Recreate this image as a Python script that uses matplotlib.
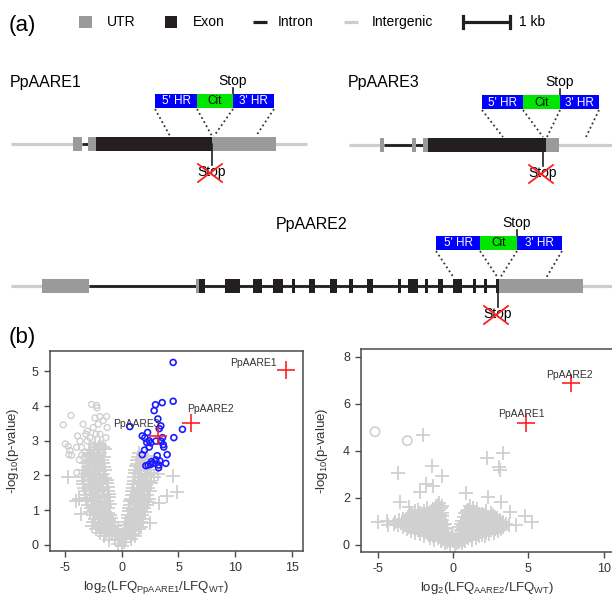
import matplotlib.pyplot as plt
from matplotlib.patches import Rectangle

plt.rcParams['font.family'] = ['Liberation Sans', 'DejaVu Sans']
plt.rcParams['mathtext.default'] = 'regular'
plt.rcParams['axes.unicode_minus'] = False

# ---------------- panel (a): gene models (figure pixels, y from top)
utr_col = '#9a9a9a'
exon_col = '#231f20'
inter_col = '#cdcdcd'

aare1_span = (11, 307)
aare1_utr = [(73, 82), (88, 96), (212, 276)]
aare1_exon = [(96, 212)]
aare1_intron = [(82, 88)]
aare1_hr = [155, 197, 233, 274]
aare1_dots = [170, 212, 214, 256]

aare3_span = (349, 612)
aare3_utr = [(380, 384), (412, 416), (423, 428), (546, 559)]
aare3_exon = [(428, 546)]
aare3_intron = [(384, 423)]
aare3_hr = [482, 523, 560, 599]
aare3_dots = [503, 543, 547, 586]

aare2_span = (11, 612)
aare2_utr = [(42, 89), (196, 199), (499, 583)]
aare2_exon = [(199, 205), (225, 240), (253, 262), (273, 283), (292, 295),
              (309, 315), (330, 337), (349, 353), (367, 373), (398, 401),
              (408, 418), (425, 428), (438, 443), (453, 462), (473, 476),
              (484, 487), (496, 499)]
aare2_intron = [(89, 499)]
aare2_hr = [436, 480, 517, 562]
aare2_dots = [454, 498, 500, 546]

# ---------------- panel (b): volcano plots
# left: PpAARE1 vs WT
l_red = [(14.5, 5.05), (6.15, 3.5), (3.2, 3.14)]
l_red_names = ['PpAARE1', 'PpAARE2', 'PpAARE3']
l_name_pos = [(11.6, 5.24), (7.8, 3.92), (1.3, 3.48)]

l_blue = [(4.53, 5.26), (4.53, 4.14), (3.56, 4.1), (2.97, 4.04), (2.85, 3.87),
          (3.18, 3.63), (3.44, 3.43), (3.3, 3.35), (5.35, 3.33), (4.59, 3.09),
          (2.27, 3.24), (2.03, 3.09), (1.8, 3.14), (2.4, 3.0), (2.55, 2.94),
          (3.59, 3.09), (3.47, 2.99), (3.65, 2.89), (3.0, 2.99), (2.42, 2.82),
          (1.8, 2.6), (2.0, 2.73), (4.0, 2.6), (3.12, 2.57), (3.35, 2.42),
          (3.27, 2.3), (3.24, 2.22), (3.88, 2.35), (2.76, 2.35), (2.53, 2.32),
          (2.32, 2.3), (2.12, 2.28), (2.62, 2.4), (0.7, 3.41), (3.7, 2.82),
          (3.0, 2.45), (2.2, 2.95)]

l_grey_o = [(-5.18, 3.46), (-4.5, 3.73), (-5.0, 2.91), (-4.74, 2.84), (-4.59, 2.72),
            (-4.68, 2.6), (-4.44, 2.58), (-4.0, 2.81), (-3.56, 2.81), (-3.7, 2.99),
            (-3.18, 3.19), (-3.06, 3.28), (-2.68, 4.05), (-2.24, 4.02), (-2.2, 3.95),
            (-2.38, 3.66), (-1.94, 3.7), (-1.35, 3.7), (-1.65, 3.58), (-2.09, 3.48),
            (-1.3, 3.38), (-2.53, 3.38), (-2.29, 3.19), (-1.94, 3.19), (-2.82, 3.09),
            (-3.42, 3.48), (-3.91, 3.14), (-3.06, 2.99), (-2.68, 2.89), (-3.27, 2.68),
            (-2.82, 2.65), (-3.56, 2.58), (-3.77, 2.45), (-3.18, 2.35), (-4.0, 2.08),
            (-2.38, 2.58), (-1.94, 2.89), (-1.41, 3.09)]

l_grey_plus = [
    (0.0, -0.05), (-0.35, 0.02), (0.2, 0.08),
    (-1.1, 0.15), (-0.6, 0.18), (-0.15, 0.14), (0.35, 0.2), (0.8, 0.16),
    (-1.6, 0.25), (-1.15, 0.26), (-0.65, 0.24), (-0.15, 0.27), (0.35, 0.25), (0.8, 0.26), (1.2, 0.24),
    (-1.9, 0.33), (-1.4, 0.36), (-0.9, 0.3), (-0.4, 0.38), (0.1, 0.32), (0.6, 0.37), (1.0, 0.3),
    (-2.3, 0.45), (-1.85, 0.46), (-1.35, 0.44), (-0.85, 0.45), (-0.35, 0.46), (0.55, 0.44),
    (1.05, 0.46), (1.5, 0.45),
    (-2.6, 0.55), (-2.1, 0.52), (-1.6, 0.57), (-1.1, 0.5), (-0.6, 0.55), (0.3, 0.58),
    (0.8, 0.52), (1.3, 0.56), (1.7, 0.5),
    (-2.55, 0.65), (-2.15, 0.66), (-1.65, 0.64), (-1.15, 0.65), (-0.75, 0.66), (0.4, 0.65),
    (0.75, 0.64), (1.2, 0.66), (1.7, 0.65),
    (-2.4, 0.74), (-1.9, 0.78), (-1.4, 0.72), (-0.95, 0.76), (0.5, 0.77), (0.95, 0.72),
    (1.45, 0.78), (1.9, 0.73),
    (-2.55, 0.85), (-2.05, 0.86), (-1.55, 0.84), (-1.05, 0.85), (0.55, 0.86), (0.85, 0.84),
    (1.35, 0.85), (1.8, 0.86),
    (-2.8, 0.95), (-2.3, 0.92), (-1.8, 0.97), (-1.25, 0.93), (0.6, 0.96), (1.1, 0.91),
    (1.6, 0.98), (2.05, 0.94),
    (-2.75, 1.05), (-2.25, 1.06), (-1.75, 1.04), (-1.25, 1.05), (0.65, 1.06), (1.0, 1.04),
    (1.45, 1.05), (1.95, 1.06),
    (-3.0, 1.15), (-2.5, 1.12), (-2.0, 1.18), (-1.5, 1.13), (-1.05, 1.17), (0.7, 1.14),
    (1.2, 1.19), (1.75, 1.12), (2.2, 1.16),
    (-3.05, 1.25), (-2.4, 1.26), (-1.85, 1.24), (-1.35, 1.25), (0.75, 1.26), (1.05, 1.24),
    (1.55, 1.25), (2.05, 1.26), (2.3, 1.24),
    (-3.15, 1.36), (-2.65, 1.33), (-2.1, 1.38), (-1.6, 1.34), (-1.1, 1.37), (0.8, 1.33),
    (1.3, 1.38), (1.85, 1.35), (2.4, 1.32),
    (-3.2, 1.45), (-2.55, 1.46), (-2.05, 1.44), (-1.55, 1.45), (-1.15, 1.46), (0.85, 1.44),
    (1.15, 1.45), (1.7, 1.46), (2.2, 1.44),
    (-3.3, 1.55), (-2.8, 1.58), (-2.3, 1.53), (-1.8, 1.57), (-1.2, 1.54), (0.9, 1.56),
    (1.45, 1.52), (1.95, 1.58), (2.5, 1.55),
    (-3.35, 1.65), (-2.65, 1.66), (-2.15, 1.64), (-1.65, 1.65), (-1.2, 1.66), (0.95, 1.64),
    (1.3, 1.65), (1.85, 1.66), (2.35, 1.64),
    (-3.4, 1.76), (-2.9, 1.73), (-2.4, 1.78), (-1.9, 1.74), (-1.3, 1.77), (1.0, 1.75),
    (1.55, 1.79), (2.1, 1.73), (2.6, 1.77),
    (-3.45, 1.85), (-2.75, 1.86), (-2.25, 1.84), (-1.75, 1.85), (-1.3, 1.86), (1.05, 1.84),
    (1.4, 1.85), (1.95, 1.86), (2.5, 1.84),
    (-3.5, 1.95), (-3.0, 1.98), (-2.5, 1.93), (-2.0, 1.97), (-1.5, 1.94), (1.1, 1.96),
    (1.65, 1.93), (2.2, 1.98), (2.8, 1.95),
    (-3.25, 2.05), (-2.75, 2.06), (-2.25, 2.04), (-1.7, 2.05), (1.15, 2.06), (1.55, 2.04),
    (2.05, 2.05), (2.6, 2.06),
    (-3.4, 2.16), (-2.9, 2.13), (-2.4, 2.18), (-1.9, 2.14), (-1.45, 2.17), (1.2, 2.15),
    (1.8, 2.12), (2.4, 2.17), (3.2, 2.05),
    (-3.0, 2.25), (-2.5, 2.26), (-1.95, 2.24), (-1.55, 2.25), (1.25, 2.26), (1.6, 2.24),
    (2.2, 2.25),
    (-3.2, 2.35), (-2.7, 2.38), (-2.2, 2.33), (-1.7, 2.36), (1.3, 2.34), (2.0, 2.38), (2.6, 2.32),
    (-2.85, 2.45), (-2.3, 2.46), (-1.8, 2.44), (1.35, 2.45), (1.75, 2.46), (2.35, 2.44),
    (-3.0, 2.55), (-2.5, 2.53), (-2.0, 2.57), (-1.55, 2.52), (1.45, 2.52), (2.1, 2.55),
    (-2.9, 2.65), (-2.45, 2.66), (-1.9, 2.64), (1.55, 2.65),
    (-2.7, 2.74), (-2.2, 2.72), (-1.5, 2.75),
    (-2.05, 2.82), (-1.7, 2.83),
    (-2.4, 2.9), (-1.9, 2.88),
    (-4.75, 1.95), (-4.05, 1.27), (-3.8, 1.32), (-3.65, 0.88),
    (4.5, 1.97), (4.9, 1.52), (4.0, 1.42), (2.5, 0.64), (3.3, 1.2)]

# right: PpAARE2 vs WT
r_red = [(7.79, 6.88), (4.83, 5.18)]
r_red_names = ['PpAARE2', 'PpAARE1']
r_name_pos = [(7.7, 7.23), (4.55, 5.57)]

r_grey_o = [(-5.17, 4.82), (-3.03, 4.44)]

r_grey_plus = [
    (-0.2, 0.0), (0.1, -0.05),
    (-0.55, 0.08), (-0.2, 0.09), (0.25, 0.07), (0.6, 0.08),
    (-0.8, 0.15), (-0.4, 0.12), (0.0, 0.17), (0.4, 0.14), (0.8, 0.16),
    (-1.25, 0.22), (-0.75, 0.23), (-0.25, 0.21), (0.25, 0.22), (0.75, 0.23), (1.25, 0.21),
    (-1.5, 0.3), (-1.0, 0.28), (-0.5, 0.32), (0.0, 0.3), (0.5, 0.27), (1.0, 0.31), (1.5, 0.29),
    (-1.9, 0.37), (-1.3, 0.38), (-0.8, 0.36), (-0.3, 0.37), (0.2, 0.38), (0.7, 0.36),
    (1.2, 0.37), (1.7, 0.38), (2.1, 0.36),
    (-2.2, 0.45), (-1.6, 0.43), (-1.1, 0.47), (-0.6, 0.44), (-0.1, 0.46), (0.4, 0.45),
    (0.9, 0.42), (1.4, 0.47), (1.9, 0.44), (2.4, 0.46),
    (-2.5, 0.52), (-1.95, 0.53), (-1.45, 0.51), (-0.95, 0.52), (-0.45, 0.53), (0.7, 0.51),
    (1.2, 0.52), (1.7, 0.53), (2.2, 0.51), (2.7, 0.52),
    (-2.8, 0.6), (-2.3, 0.62), (-1.7, 0.58), (-1.2, 0.61), (-0.7, 0.59), (0.5, 0.62),
    (1.0, 0.58), (1.5, 0.61), (2.0, 0.59), (2.5, 0.62), (3.0, 0.6),
    (-3.05, 0.67), (-2.55, 0.68), (-2.0, 0.66), (-1.5, 0.67), (-1.0, 0.68), (-0.55, 0.66),
    (0.65, 0.67), (1.2, 0.68), (1.7, 0.66), (2.25, 0.67), (2.75, 0.68), (3.2, 0.66),
    (-3.3, 0.75), (-2.8, 0.77), (-2.3, 0.73), (-1.8, 0.76), (-1.3, 0.74), (-0.8, 0.77),
    (-0.4, 0.73), (0.4, 0.76), (0.9, 0.74), (1.4, 0.77), (1.9, 0.73), (2.4, 0.76),
    (2.9, 0.74), (3.3, 0.77),
    (-3.65, 0.83), (-3.15, 0.84), (-2.65, 0.82), (-2.1, 0.83), (-1.6, 0.84), (-1.1, 0.82),
    (-0.65, 0.83), (0.65, 0.84), (1.2, 0.82), (1.65, 0.83), (2.15, 0.84), (2.7, 0.82),
    (3.2, 0.83), (3.7, 0.84),
    (-3.9, 0.9), (-3.4, 0.92), (-2.9, 0.88), (-2.4, 0.91), (-1.9, 0.89), (-1.4, 0.92),
    (-0.9, 0.9), (-0.5, 0.88), (0.5, 0.91), (1.0, 0.89), (1.5, 0.92), (2.0, 0.9),
    (2.5, 0.88), (3.0, 0.91), (3.5, 0.89),
    (-3.85, 0.98), (-3.35, 0.99), (-2.85, 0.97), (-2.35, 0.98), (-1.85, 0.99), (-1.35, 0.97),
    (-0.85, 0.98), (0.8, 0.99), (1.3, 0.97), (1.8, 0.98), (2.3, 0.99), (2.8, 0.97), (3.3, 0.98),
    (-3.6, 1.05), (-3.1, 1.03), (-2.6, 1.07), (-2.1, 1.04), (-1.6, 1.06), (-1.1, 1.03),
    (-0.7, 1.06), (0.6, 1.04), (1.1, 1.07), (1.6, 1.03), (2.1, 1.06), (2.6, 1.04), (3.1, 1.05),
    (-3.3, 1.12), (-2.8, 1.13), (-2.3, 1.11), (-1.8, 1.12), (-1.3, 1.13), (-0.85, 1.11),
    (0.9, 1.12), (1.4, 1.13), (1.9, 1.11), (2.4, 1.12), (2.9, 1.13),
    (-3.0, 1.2), (-2.5, 1.22), (-2.0, 1.18), (-1.5, 1.21), (-1.0, 1.19), (-0.7, 1.22),
    (0.7, 1.2), (1.2, 1.18), (1.7, 1.22), (2.2, 1.19), (2.8, 1.21),
    (-2.85, 1.28), (-2.35, 1.29), (-1.85, 1.27), (-1.3, 1.28), (-0.85, 1.29), (1.0, 1.27),
    (1.5, 1.28), (2.05, 1.29), (2.65, 1.27),
    (-2.7, 1.35), (-2.2, 1.37), (-1.6, 1.33), (-1.1, 1.36), (-0.7, 1.34), (0.8, 1.35),
    (1.3, 1.37), (1.9, 1.33), (2.5, 1.36),
    (-2.5, 1.43), (-1.9, 1.44), (-1.5, 1.42), (-1.05, 1.43), (0.9, 1.44), (1.4, 1.42), (2.2, 1.43),
    (-2.3, 1.5), (-1.3, 1.52), (-0.9, 1.48), (1.0, 1.5), (1.6, 1.52),
    (-1.7, 1.58), (-1.1, 1.59), (-0.8, 1.57), (1.3, 1.58),
    (-1.1, 1.65), (-0.7, 1.67), (1.1, 1.65),
    (-1.0, 1.72), (-0.9, 1.8),
    (-4.95, 0.99), (-4.28, 0.85), (-4.35, 1.03), (-3.51, 1.82), (-2.9, 1.6),
    (-2.19, 2.24), (-1.79, 2.6), (-1.33, 2.5), (-0.75, 2.95), (-3.62, 3.05),
    (-1.41, 3.38), (-1.97, 4.68), (0.84, 2.2), (2.34, 2.03), (2.23, 3.69),
    (3.33, 3.91), (3.05, 3.31), (3.1, 3.17), (3.2, 1.82), (3.77, 1.42),
    (4.17, 0.85), (4.77, 1.25), (5.21, 0.99)]

grey = '#d0d0d0'
blue = '#1a1aff'
red = '#ff2020'
frame = '#4a4a4a'

fig = plt.figure(figsize=(6.12, 5.95), dpi=100)
ax0 = fig.add_axes([0, 0, 1, 1])
ax0.set_xlim(0, 612)
ax0.set_ylim(595, 0)
ax0.axis('off')


def draw_gene(ax, gy, span, utr, exon, intron, hr, dots):
    ax.plot(span, [gy, gy], color=inter_col, lw=2.3, solid_capstyle='butt', zorder=1)
    for a, b in intron:
        ax.plot([a, b], [gy, gy], color=exon_col, lw=2.0, solid_capstyle='butt', zorder=2)
    for a, b in utr:
        ax.add_patch(Rectangle((a, gy - 7), b - a, 14, color=utr_col, lw=0, zorder=3))
    for a, b in exon:
        ax.add_patch(Rectangle((a, gy - 7), b - a, 14, color=exon_col, lw=0, zorder=3))
    # homologous regions + citrine construct
    top = gy - 50
    cols = ['#0000ff', '#00e600', '#0000ff']
    labs = ["5' HR", 'Cit', "3' HR"]
    tcol = ['white', 'black', 'white']
    for i in range(3):
        ax.add_patch(Rectangle((hr[i], top), hr[i + 1] - hr[i], 14, color=cols[i], lw=0, zorder=3))
        ax.text((hr[i] + hr[i + 1]) / 2, top + 7.5, labs[i], color=tcol[i], fontsize=8.5,
                ha='center', va='center', zorder=4)
    for xa, xb in zip(hr, dots):
        ax.plot([xa, xb], [top + 15, gy - 8], ls=(0, (1, 1.6)), color='#333333', lw=1.3, zorder=2)
    # new stop above construct
    ax.plot([hr[2], hr[2]], [top - 6, top], color=exon_col, lw=1.2)
    ax.text(hr[2], top - 13, 'Stop', fontsize=10, ha='center', va='center')
    # removed stop
    sx = dots[1]
    ax.plot([sx, sx], [gy, gy + 21], color=exon_col, lw=1.2, zorder=4)
    ax.text(sx, gy + 28, 'Stop', fontsize=10, ha='center', va='center', zorder=4)
    cx, cy = sx - 2, gy + 29
    ax.plot([cx - 12, cx + 12], [cy - 9, cy + 9], color=red, lw=1.3, zorder=5)
    ax.plot([cx - 12, cx + 12], [cy + 9, cy - 9], color=red, lw=1.3, zorder=5)


draw_gene(ax0, 144, aare1_span, aare1_utr, aare1_exon, aare1_intron, aare1_hr, aare1_dots)
draw_gene(ax0, 145, aare3_span, aare3_utr, aare3_exon, aare3_intron, aare3_hr, aare3_dots)
draw_gene(ax0, 286, aare2_span, aare2_utr, aare2_exon, aare2_intron, aare2_hr, aare2_dots)
ax0.text(10, 83, 'PpAARE1', fontsize=11.5, va='center')
ax0.text(348, 83, 'PpAARE3', fontsize=11.5, va='center')
ax0.text(312, 225, 'PpAARE2', fontsize=11.5, ha='center', va='center')

# legend row
ax0.text(9, 26, '(a)', fontsize=16, va='center')
ax0.text(9, 338, '(b)', fontsize=16, va='center')
ax0.add_patch(Rectangle((79, 16), 13, 12, color=utr_col, lw=0))
ax0.text(107, 22, 'UTR', fontsize=10, va='center')
ax0.add_patch(Rectangle((165, 16), 12, 12, color=exon_col, lw=0))
ax0.text(193, 22, 'Exon', fontsize=10, va='center')
ax0.plot([253, 267], [22, 22], color=exon_col, lw=2.3, solid_capstyle='butt')
ax0.text(278, 22, 'Intron', fontsize=10, va='center')
ax0.plot([344, 358], [22, 22], color=inter_col, lw=2.3, solid_capstyle='butt')
ax0.text(372, 22, 'Intergenic', fontsize=10, va='center')
ax0.plot([463, 510], [22, 22], color=exon_col, lw=2.3, solid_capstyle='butt')
ax0.plot([463, 463], [16, 28], color=exon_col, lw=2.3)
ax0.plot([510, 510], [16, 28], color=exon_col, lw=2.3)
ax0.text(519, 22, '1 kb', fontsize=10, va='center')


def style(ax):
    for s in ax.spines.values():
        s.set_color(frame)
        s.set_linewidth(1.1)
    ax.tick_params(direction='out', length=4, width=1, color=frame, labelsize=9,
                   labelcolor='#333333', pad=4)


axl = fig.add_axes([50 / 612, 44 / 595, 253 / 612, 200 / 595])
axl.scatter([p[0] for p in l_grey_plus], [p[1] for p in l_grey_plus], marker='+', s=100,
            color=grey, lw=1.3, zorder=1)
axl.scatter([p[0] for p in l_grey_o], [p[1] for p in l_grey_o], marker='o', s=18,
            facecolors='none', edgecolors=grey, lw=1.0, zorder=2)
axl.scatter([p[0] for p in l_blue], [p[1] for p in l_blue], marker='o', s=18,
            facecolors='none', edgecolors=blue, lw=1.2, zorder=3)
axl.scatter([p[0] for p in l_red], [p[1] for p in l_red], marker='+', s=150,
            color=red, lw=1.2, zorder=4)
for name, (tx, ty) in zip(l_red_names, l_name_pos):
    axl.text(tx, ty, name, fontsize=7.5, color='#333333', ha='center', va='center', zorder=5)
axl.set_xlim(-6.35, 16.0)
axl.set_ylim(-0.18, 5.59)
axl.set_xticks([-5, 0, 5, 10, 15])
axl.set_yticks([0, 1, 2, 3, 4, 5])
style(axl)
axl.set_xlabel('log$_2$(LFQ$_{PpAARE1}$/LFQ$_{WT}$)', fontsize=9.5, color='#333333')
axl.set_ylabel('-log$_{10}$(p-value)', fontsize=9.5, color='#333333')
axl.xaxis.set_label_coords(0.42, -0.14)
axl.yaxis.set_label_coords(-0.115, 0.5)

axr = fig.add_axes([361 / 612, 43 / 595, 264 / 612, 203 / 595])
axr.scatter([p[0] for p in r_grey_plus], [p[1] for p in r_grey_plus], marker='+', s=100,
            color=grey, lw=1.3, zorder=1)
axr.scatter([p[0] for p in r_grey_o], [p[1] for p in r_grey_o], marker='o', s=45,
            facecolors='none', edgecolors=grey, lw=1.2, zorder=2)
axr.scatter([p[0] for p in r_red], [p[1] for p in r_red], marker='+', s=150,
            color=red, lw=1.2, zorder=4)
for name, (tx, ty) in zip(r_red_names, r_name_pos):
    axr.text(tx, ty, name, fontsize=7.5, color='#333333', ha='center', va='center', zorder=5)
axr.set_xlim(-6.1, 11.4)
axr.set_ylim(-0.3, 8.34)
axr.set_xticks([-5, 0, 5, 10])
axr.set_yticks([0, 2, 4, 6, 8])
style(axr)
axr.set_xlabel('log$_2$(LFQ$_{AARE2}$/LFQ$_{WT}$)', fontsize=9.5, color='#333333')
axr.set_ylabel('-log$_{10}$(p-value)', fontsize=9.5, color='#333333')
axr.xaxis.set_label_coords(0.477, -0.14)
axr.yaxis.set_label_coords(-0.117, 0.5)

fig.savefig('out.png', dpi=100)
